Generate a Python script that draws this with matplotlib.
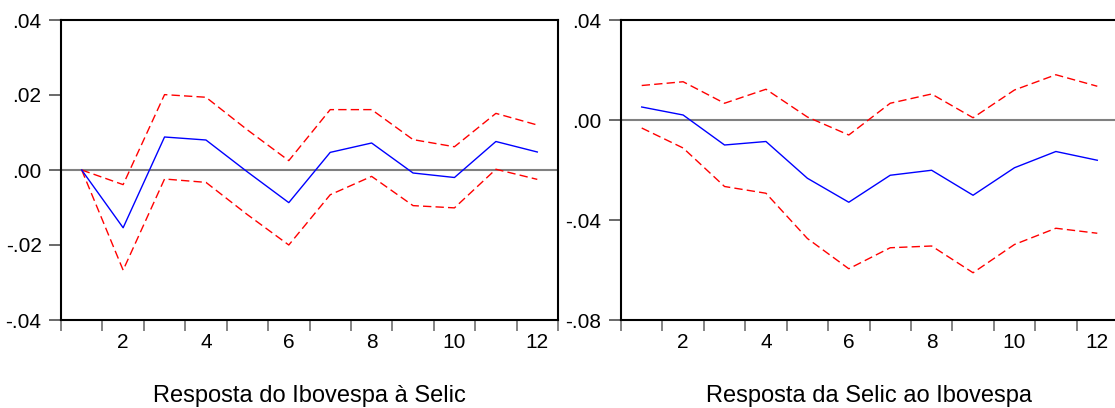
import matplotlib
matplotlib.use("Agg")
import matplotlib.pyplot as plt
from matplotlib.ticker import FixedLocator

plt.rcParams["font.family"] = ["Liberation Sans", "DejaVu Sans"]

periods = list(range(1, 13))

# Resposta do Ibovespa a Selic
ibov_resp = [0.0, -0.0154, 0.0088, 0.0080, -0.0005, -0.0087, 0.0047, 0.0072, -0.0008, -0.0020, 0.0076, 0.0048]
ibov_upper = [0.0, -0.0039, 0.0201, 0.0194, 0.0107, 0.0025, 0.0161, 0.0161, 0.0081, 0.0062, 0.0151, 0.0120]
ibov_lower = [0.0, -0.0267, -0.0024, -0.0033, -0.0119, -0.0200, -0.0066, -0.0017, -0.0095, -0.0101, 0.0002, -0.0025]

# Resposta da Selic ao Ibovespa
selic_resp = [0.0052, 0.0020, -0.0100, -0.0086, -0.0233, -0.0329, -0.0221, -0.0201, -0.0301, -0.0191, -0.0126, -0.0161]
selic_upper = [0.0138, 0.0153, 0.0067, 0.0123, 0.0012, -0.0060, 0.0067, 0.0104, 0.0009, 0.0120, 0.0181, 0.0135]
selic_lower = [-0.0032, -0.0112, -0.0266, -0.0293, -0.0474, -0.0595, -0.0511, -0.0504, -0.0611, -0.0498, -0.0433, -0.0453]

titles = ["Resposta do Ibovespa à Selic", "Resposta da Selic ao Ibovespa"]
yticks_left = [-0.04, -0.02, 0.0, 0.02, 0.04]
yticks_right = [-0.08, -0.04, 0.0, 0.04]


def fmt(v):
    s = "%.2f" % v
    return s.replace("0.", ".")


W, H = 1115, 408
fig = plt.figure(figsize=(W / 100, H / 100), dpi=100)
ax1 = fig.add_axes([61 / W, 1 - 320 / H, 497 / W, 300 / H])
ax2 = fig.add_axes([621 / W, 1 - 320 / H, 497 / W, 300 / H])

panels = [
    (ax1, ibov_resp, ibov_upper, ibov_lower, yticks_left, titles[0]),
    (ax2, selic_resp, selic_upper, selic_lower, yticks_right, titles[1]),
]

for ax, resp, up, lo, yt, title in panels:
    ax.axhline(0, color="#808080", lw=1.5, zorder=1)
    ax.plot(periods, resp, color="#0000ff", lw=1.0, zorder=3)
    ax.plot(periods, up, color="#ff0000", lw=1.0, ls=(0, (6, 3)), zorder=2)
    ax.plot(periods, lo, color="#ff0000", lw=1.0, ls=(0, (6, 3)), zorder=2)
    ax.set_xlim(0.5, 12.5)
    ax.set_ylim(yt[0], yt[-1])
    ax.set_yticks(yt)
    ax.set_yticklabels([fmt(v) for v in yt])
    ax.set_xticks([2, 4, 6, 8, 10, 12])
    ax.xaxis.set_minor_locator(FixedLocator([i + 0.5 for i in range(0, 13)]))
    ax.tick_params(axis="x", which="major", length=0, pad=9.5, labelsize=15)
    ax.tick_params(axis="x", which="minor", length=8, width=1.2, color="#707070", direction="out")
    ax.tick_params(axis="y", length=9, width=1.2, color="#505050", pad=5, labelsize=15)
    for sp in ax.spines.values():
        sp.set_linewidth(1.5)
        sp.set_color("black")
    ax.text(0.5, -0.273, title, transform=ax.transAxes, ha="center", va="baseline", fontsize=17)

fig.savefig("out.png", dpi=100)
